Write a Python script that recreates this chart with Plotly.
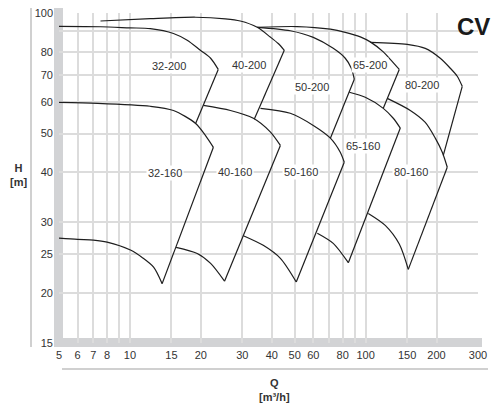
import math
import plotly.graph_objects as go

# ---------------- data (Q in m3/h, H in m) ----------------
# 32-200
q32_200_top = [5, 7.5, 10, 12.2, 15.3, 17.5, 19.9, 22.0, 23.7]
h32_200_top = [92.6, 92.4, 91.8, 91.4, 88.9, 85.5, 80.7, 77.1, 72.3]
q32_200_end = [23.7, 19.0]
h32_200_end = [72.3, 53.0]
# 32-160
q32_160_top = [5, 7.3, 12.2, 15.3, 19.0, 20.9, 22.6]
h32_160_top = [59.8, 59.5, 58.5, 57.1, 53.0, 49.5, 46.2]
q32_160_end = [22.6, 13.7]
h32_160_end = [46.2, 21.1]
q32_160_min = [13.7, 12.6, 11.3, 10.05, 8.0, 7.0, 6.0, 5]
h32_160_min = [21.1, 23.2, 24.5, 25.6, 26.8, 27.1, 27.2, 27.4]
# 40-200
q40_200_top = [7.5, 12.2, 19.0, 25.4, 29.4, 34.7, 39.4, 42.6, 45.2]
h40_200_top = [95.5, 96.8, 97.6, 96.7, 95.5, 92.1, 87.1, 83.9, 80.7]
q40_200_end = [45.2, 33.7]
h40_200_end = [80.7, 54.3]
# 40-160
q40_160_top = [20.5, 26.7, 33.4, 39.4, 43.5]
h40_160_top = [58.8, 57.1, 54.6, 50.5, 46.7]
q40_160_end = [43.5, 25.2]
h40_160_end = [46.7, 21.4]
q40_160_min = [25.2, 22.0, 19.3, 15.7]
h40_160_min = [21.4, 23.7, 25.1, 26.0]
# 50-200
q50_200_top = [34.7, 47.9, 60.0, 72.9, 82.0, 87.0, 89.6]
h50_200_top = [92.1, 90.3, 86.9, 81.6, 77.1, 72.8, 68.3]
q50_200_end = [89.6, 70.9]
h50_200_end = [68.3, 48.7]
# 50-160
q50_160_top = [35.8, 47.9, 60.0, 70.9, 78.1, 81.2]
h50_160_top = [57.8, 56.2, 52.4, 48.7, 44.9, 42.4]
q50_160_end = [81.2, 50.8]
h50_160_end = [42.4, 21.3]
q50_160_min = [50.8, 43.5, 36.8, 30.3]
h50_160_min = [21.3, 24.4, 26.3, 27.8]
# 65-200
q65_200_top = [34.7, 51.3, 70.9, 82.0, 95.0, 104.7, 118.9, 127.3, 139.0]
h65_200_top = [92.1, 92.5, 91.1, 89.5, 87.2, 84.7, 80.0, 76.6, 72.3]
q65_200_end = [139.0, 118.9]
h65_200_end = [72.3, 57.8]
# 65-160
q65_160_top = [85.3, 99.7, 118.9, 131.1, 140.4]
h65_160_top = [63.4, 61.6, 57.8, 54.6, 51.6]
q65_160_end = [140.4, 84.5]
h65_160_end = [51.6, 23.8]
q65_160_min = [84.5, 72.9, 62.4]
h65_160_min = [23.8, 26.6, 28.2]
# 80-200
q80_200_top = [104.7, 150.3, 179.2, 207.5, 228.8, 244.9, 257.2]
h80_200_top = [84.5, 83.5, 81.6, 77.1, 72.8, 69.5, 65.6]
q80_200_end = [257.2, 213.7]
h80_200_end = [65.6, 44.1]
# 80-160
q80_160_top = [123.6, 154.8, 179.2, 197.6, 211.6, 222.2]
h80_160_top = [61.2, 57.1, 53.3, 48.7, 44.9, 41.2]
q80_160_end = [222.2, 151.8]
h80_160_end = [41.2, 22.9]
q80_160_min = [151.8, 139.0, 121.2, 102.7]
h80_160_min = [22.9, 26.5, 29.5, 31.6]

# curve labels
label_text = ["32-200", "40-200", "50-200", "65-200", "80-200",
              "32-160", "40-160", "50-160", "65-160", "80-160"]
label_q = [14.6, 32.1, 59.4, 104.7, 174, 14.1, 28.0, 53.4, 97.8, 155.8]
label_h = [73.7, 74.0, 65.2, 74.0, 66.0, 39.9, 40.0, 40.0, 46.6, 40.0]

# axes ticks
x_tickvals = [5, 6, 7, 8, 9, 10, 15, 20, 30, 40, 50, 60, 70, 80, 90, 100, 150, 200, 300]
x_ticktext = ["5", "6", "7", "8", "", "10", "15", "20", "30", "40", "50", "60", "", "80", "", "100", "150", "200", "300"]
y_tickvals = [15, 20, 25, 30, 40, 50, 60, 70, 80, 90, 100]
y_ticktext = ["15", "20", "25", "30", "40", "50", "60", "70", "80", "", "100"]

# ---------------- figure ----------------
fig = go.Figure()
LINE_COLOR = "#1e1e1e"

curves = [
    (q32_200_top, h32_200_top, "spline"), (q32_200_end, h32_200_end, "linear"),
    (q32_160_top, h32_160_top, "spline"), (q32_160_end, h32_160_end, "linear"),
    (q32_160_min, h32_160_min, "spline"),
    (q40_200_top, h40_200_top, "spline"), (q40_200_end, h40_200_end, "linear"),
    (q40_160_top, h40_160_top, "spline"), (q40_160_end, h40_160_end, "linear"),
    (q40_160_min, h40_160_min, "spline"),
    (q50_200_top, h50_200_top, "spline"), (q50_200_end, h50_200_end, "linear"),
    (q50_160_top, h50_160_top, "spline"), (q50_160_end, h50_160_end, "linear"),
    (q50_160_min, h50_160_min, "spline"),
    (q65_200_top, h65_200_top, "spline"), (q65_200_end, h65_200_end, "linear"),
    (q65_160_top, h65_160_top, "spline"), (q65_160_end, h65_160_end, "linear"),
    (q65_160_min, h65_160_min, "spline"),
    (q80_200_top, h80_200_top, "spline"), (q80_200_end, h80_200_end, "linear"),
    (q80_160_top, h80_160_top, "spline"), (q80_160_end, h80_160_end, "linear"),
    (q80_160_min, h80_160_min, "spline"),
]
for qs, hs, shp in curves:
    fig.add_trace(go.Scatter(x=qs, y=hs, mode="lines",
                             line=dict(color=LINE_COLOR, width=1.2, shape=shp, smoothing=0.8),
                             hoverinfo="skip", showlegend=False))

FONT = "Liberation Sans, Arial, sans-serif"
annotations = []
for t, q, h in zip(label_text, label_q, label_h):
    annotations.append(dict(x=math.log10(q), y=math.log10(h), xref="x", yref="y", text=t,
                            showarrow=False, bgcolor="white", borderpad=1,
                            xanchor="center", yanchor="middle",
                            font=dict(family=FONT, size=11, color="#333333")))
annotations += [
    dict(x=-0.0955, y=0.508, xref="paper", yref="paper", text="<b>H</b><br><b>[m]</b>",
         xanchor="center", yanchor="middle",
         showarrow=False, font=dict(family=FONT, size=11, color="#333333"), align="center"),
    dict(x=0.5155, y=-0.141, xref="paper", yref="paper", text="<b>Q</b><br><b>[m³/h]</b>",
         xanchor="center", yanchor="middle",
         showarrow=False, font=dict(family=FONT, size=11, color="#333333"), align="center"),
    dict(x=0.990, y=0.9606, xref="paper", yref="paper", text="<b>CV</b>",
         xanchor="center", yanchor="middle",
         showarrow=False, font=dict(family=FONT, size=24, color="#1a1a1a")),
]

GRAY = "#d2d3d5"
shapes = [
    dict(type="rect", xref="paper", yref="paper", x0=-0.0119, x1=0.0095, y0=-0.0121, y1=1.0152,
         fillcolor=GRAY, line=dict(width=0), layer="between"),
    dict(type="rect", xref="paper", yref="paper", x0=-0.0119, x1=1.0095, y0=-0.0121, y1=0.01515,
         fillcolor=GRAY, line=dict(width=0), layer="between"),
    dict(type="line", xref="paper", yref="paper", x0=-0.0668, x1=-0.0668, y0=-0.0121, y1=1.0152,
         line=dict(color="#d0d0d0", width=2)),
    dict(type="line", xref="paper", yref="paper", x0=0.0072, x1=1.0239, y0=-0.0788, y1=-0.0788,
         line=dict(color="#d0d0d0", width=2)),
]

# page body has an 8px default margin; margins compensate so the plot area
# lands at the reference position
fig.update_layout(
    width=499, height=408,
    margin=dict(l=51, r=29, t=5, b=73, pad=0, autoexpand=False),
    paper_bgcolor="white", plot_bgcolor="white",
    showlegend=False,
    annotations=annotations,
    shapes=shapes,
    font=dict(family=FONT, size=11, color="#333333"),
)
fig.update_xaxes(type="log", range=[math.log10(5), math.log10(300)],
                 tickmode="array", tickvals=x_tickvals, ticktext=x_ticktext,
                 showgrid=True, gridcolor="#dcdcdc", gridwidth=1.5,
                 zeroline=False, showline=False, ticks="", ticklabelstandoff=4,
                 ticklabeloverflow="allow", automargin=False,
                 tickfont=dict(family=FONT, size=11, color="#333333"))
fig.update_yaxes(type="log", range=[math.log10(15), 2],
                 tickmode="array", tickvals=y_tickvals, ticktext=y_ticktext,
                 showgrid=True, gridcolor="#dcdcdc", gridwidth=1.5,
                 zeroline=False, showline=False, ticks="", ticklabelstandoff=5,
                 ticklabeloverflow="allow", automargin=False,
                 tickfont=dict(family=FONT, size=11, color="#333333"))

fig.write_html("out.html")
